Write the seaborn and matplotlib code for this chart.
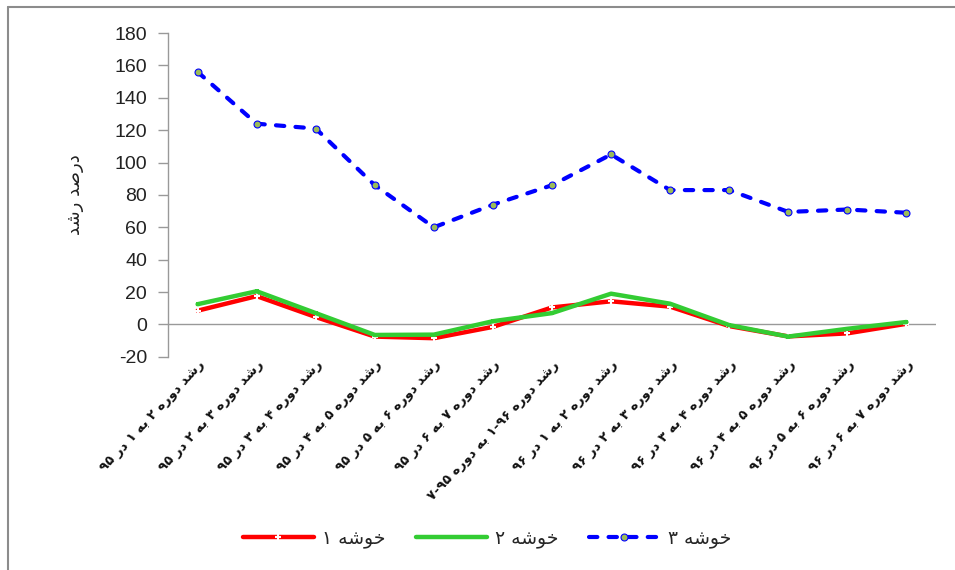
import numpy as np
import pandas as pd
import seaborn as sns
import matplotlib.pyplot as plt
from matplotlib.lines import Line2D

# Persian labels (logical order)
categories = [
    "رشد دوره ۲ به ۱ در ۹۵",
    "رشد دوره ۳ به ۲ در ۹۵",
    "رشد دوره ۴ به ۳ در ۹۵",
    "رشد دوره ۵ به ۴ در ۹۵",
    "رشد دوره ۶ به ۵ در ۹۵",
    "رشد دوره ۷ به ۶ در ۹۵",
    "رشد دوره ۱-۹۶ به دوره ۷-۹۵",
    "رشد دوره ۲ به ۱ در ۹۶",
    "رشد دوره ۳ به ۲ در ۹۶",
    "رشد دوره ۴ به ۳ در ۹۶",
    "رشد دوره ۵ به ۴ در ۹۶",
    "رشد دوره ۶ به ۵ در ۹۶",
    "رشد دوره ۷ به ۶ در ۹۶",
]
series_names = ["خوشه ۱", "خوشه ۲", "خوشه ۳"]
cluster1 = [8.5, 17.5, 4.6, -7.5, -8.5, -1.5, 10.5, 14.3, 11.0, -1.0, -7.4, -5.5, 0.4]
cluster2 = [12.5, 20.5, 7.0, -6.5, -6.3, 2.0, 7.0, 19.0, 12.8, -0.4, -7.5, -2.7, 1.5]
cluster3 = [156, 124, 121, 86, 60, 74, 86, 105, 83, 83, 69.5, 71, 69]
y_label = "درصد رشد"
y_ticks = [-20, 0, 20, 40, 60, 80, 100, 120, 140, 160, 180]

# minimal Arabic-script shaping (presentation forms) + visual reordering
FORMS = {
    'ب': ('\uFE8F', '\uFE90', '\uFE91', '\uFE92'),
    'خ': ('\uFEA5', '\uFEA6', '\uFEA7', '\uFEA8'),
    'د': ('\uFEA9', '\uFEAA', None, None),
    'ر': ('\uFEAD', '\uFEAE', None, None),
    'ش': ('\uFEB5', '\uFEB6', '\uFEB7', '\uFEB8'),
    'ص': ('\uFEB9', '\uFEBA', '\uFEBB', '\uFEBC'),
    'و': ('\uFEED', '\uFEEE', None, None),
    'ه': ('\uFEE9', '\uFEEA', '\uFEEB', '\uFEEC'),
}


def shape_word(w):
    out = []
    for i, c in enumerate(w):
        if c not in FORMS:
            out.append(c)
            continue
        prev = w[i - 1] if i > 0 else None
        nxt = w[i + 1] if i + 1 < len(w) else None
        jp = prev in FORMS and FORMS[prev][2] is not None
        jn = nxt in FORMS and FORMS[c][2] is not None
        f = FORMS[c]
        if jp and jn:
            out.append(f[3])
        elif jp:
            out.append(f[1])
        elif jn:
            out.append(f[2])
        else:
            out.append(f[0])
    return ''.join(out)


def rtl(text):
    vis = []
    for w in text.split(' '):
        if any(c in FORMS for c in w):
            vis.append(shape_word(w)[::-1])
        else:
            vis.append(w)
    return ' '.join(vis[::-1])


x = np.arange(len(categories))
df = pd.DataFrame({"x": x, "c1": cluster1, "c2": cluster2, "c3": cluster3})

sns.set_style("white")
plt.rcParams['font.family'] = ['DejaVu Sans']

fig = plt.figure(figsize=(9.55, 5.70), dpi=100)
ax = fig.add_axes([0.176, 0.374, 0.804, 0.568])

ax.axhline(0, color='#999999', lw=1.0, zorder=1)

sns.lineplot(data=df, x="x", y="c1", ax=ax, color='#ff0000', lw=3.2,
             marker='+', markersize=5, markeredgewidth=1.5, label=rtl(series_names[0]), zorder=3)
sns.lineplot(data=df, x="x", y="c2", ax=ax, color='#33cc33', lw=3.2,
             marker='s', markersize=3, markeredgewidth=0, label=rtl(series_names[1]), zorder=4)
sns.lineplot(data=df, x="x", y="c3", ax=ax, color='#0000ff', lw=3.0,
             dashes=(2.0, 2.7), marker='o', markersize=5, markerfacecolor='#9bbb59',
             markeredgecolor='#0000ff', markeredgewidth=0.8, label=rtl(series_names[2]), zorder=5)
for ln in ax.lines:
    ln.set_dash_capstyle('round')
    ln.set_solid_capstyle('round')

ax.set_xlim(-0.5, len(categories) - 0.5)
ax.set_ylim(-20, 180)
ax.set_yticks(y_ticks)
ax.set_yticklabels([str(t) for t in y_ticks], fontsize=14, color='#222222',
                   family=['Liberation Sans', 'DejaVu Sans'])
ax.tick_params(axis='y', direction='out', length=7, width=1, color='#999999', pad=8, left=True)
ax.tick_params(axis='x', length=0, pad=1)

ax.set_xticks(x)
ax.set_xticklabels([rtl(c) for c in categories], rotation=47, ha='right', va='top',
                   rotation_mode='anchor', fontsize=9.5, fontweight='bold', color='#111111')

ax.set_xlabel('')
ax.set_ylabel(rtl(y_label), fontsize=13, labelpad=22, color='#222222')

for side in ['top', 'right', 'bottom']:
    ax.spines[side].set_visible(False)
ax.spines['left'].set_color('#999999')
ax.spines['left'].set_linewidth(1)

ax.legend(loc='center', bbox_to_anchor=(0.51, 0.056), bbox_transform=fig.transFigure,
          ncol=3, frameon=False, fontsize=13.5, handlelength=3.8, columnspacing=1.6,
          handletextpad=0.45)

# outer chart border (left and top)
fig.add_artist(Line2D([8 / 955, 8 / 955], [0, 1 - 7 / 570], transform=fig.transFigure,
                      color='#8c8c8c', lw=1.5))
fig.add_artist(Line2D([8 / 955, 1], [1 - 7 / 570, 1 - 7 / 570], transform=fig.transFigure,
                      color='#8c8c8c', lw=1.5))

fig.savefig('out.png', dpi=100)
